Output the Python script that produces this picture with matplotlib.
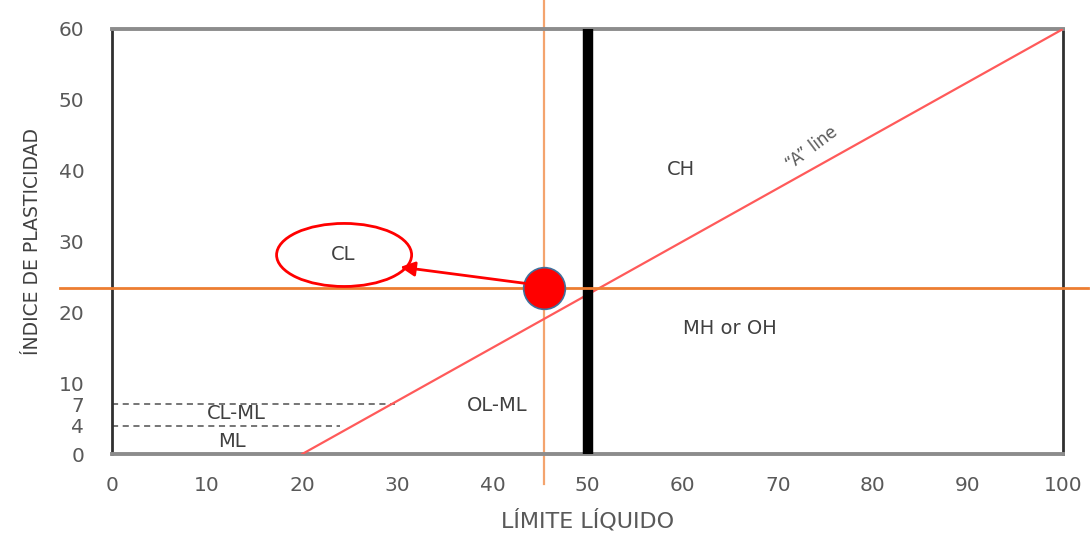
import matplotlib
matplotlib.use("Agg")
import matplotlib.pyplot as plt
from matplotlib.patches import Ellipse

# ---------------------------------------------------
# Data
# ---------------------------------------------------
x_ticks = [0, 10, 20, 30, 40, 50, 60, 70, 80, 90, 100]
y_ticks = [0, 4, 7, 10, 20, 30, 40, 50, 60]

a_line_x = [20, 100]
a_line_y = [0, 60]

cl_ml_x = [0, 29.8]
cl_ml_y = [7, 7]
ml_x = [0, 24.0]
ml_y = [4, 4]

ll_limit = 50          # vertical boundary liquid limit
sample_ll = 45.4       # measured liquid limit
sample_pi = 23.4       # measured plasticity index

zone_labels = ["CL", "CH", "MH or OH", "OL-ML", "CL-ML", "ML"]
zone_x = [24.3, 59.8, 65.0, 40.5, 13.1, 12.6]
zone_y = [28.1, 40.1, 17.7, 6.8, 5.7, 1.8]

txt_col = "#595959"

fig = plt.figure(figsize=(10.9, 5.34), dpi=100)
ax = fig.add_axes([0.1028, 0.1498, 0.8725, 0.7959])
ax.set_xlim(0, 100)
ax.set_ylim(0, 60)

# A-line
ax.plot(a_line_x, a_line_y, color="#FF5A5A", linewidth=1.6, zorder=3)

# CL-ML / ML dashed limits
ax.plot(cl_ml_x, cl_ml_y, color="#505050", linestyle=(0, (4, 3)), linewidth=1.1)
ax.plot(ml_x, ml_y, color="#505050", linestyle=(0, (4, 3)), linewidth=1.1)

# LL = 50 boundary
ax.plot([ll_limit, ll_limit], [0, 60], color="black", linewidth=7.5, zorder=4,
        solid_capstyle="butt")

# Sample cross-hair lines (run past the frame)
ax.plot([-5.5, 102.6], [sample_pi, sample_pi], color="#ED7D31", linewidth=2.0,
        clip_on=False, zorder=5)
ax.plot([sample_ll, sample_ll], [-4.2, 64.3], color="#F4A46E", linewidth=1.6,
        clip_on=False, zorder=2)

# Sample point
ax.scatter([sample_ll], [sample_pi], s=900, color="#FF0000",
           edgecolor="#41719C", linewidth=1.2, zorder=6, clip_on=False)

# Arrow toward CL ellipse
ax.annotate("", xy=(30.3, 26.4), xytext=(43.4, 24.1),
            arrowprops=dict(arrowstyle="-|>", color="#FF0000", lw=2.0,
                            mutation_scale=22, shrinkA=0, shrinkB=0),
            zorder=6)

# CL ellipse
ax.add_patch(Ellipse((24.4, 28.1), 14.2, 8.9, fill=False,
                     edgecolor="#FF0000", linewidth=2.0, zorder=5))

# Zone labels
for lab, xx, yy in zip(zone_labels, zone_x, zone_y):
    ax.text(xx, yy, lab, ha="center", va="center", fontsize=14,
            color="#404040", zorder=7)

ax.text(73.6, 43.2, "\u201cA\u201d line", rotation=37, ha="center",
        va="center", fontsize=12, color=txt_col)

# Axes styling
ax.set_xticks(x_ticks)
ax.set_yticks(y_ticks)
ax.tick_params(length=0, labelsize=14.5, labelcolor=txt_col)
ax.tick_params(axis="x", pad=16)
ax.tick_params(axis="y", pad=20)
for side in ["left", "right"]:
    ax.spines[side].set_color("#303030")
    ax.spines[side].set_linewidth(2.0)
for side in ["top", "bottom"]:
    ax.spines[side].set_color("#8C8C8C")
    ax.spines[side].set_linewidth(2.8)

ax.set_xlabel("LÍMITE LÍQUIDO", fontsize=16, color=txt_col, labelpad=10)
ax.set_ylabel("ÍNDICE DE PLASTICIDAD", fontsize=13.5, color="#404040",
              labelpad=12)

fig.savefig("out.png", dpi=100)
